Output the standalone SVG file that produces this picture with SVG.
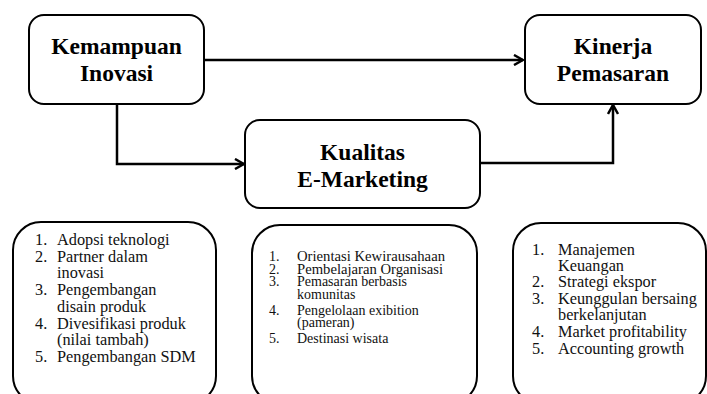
<svg xmlns="http://www.w3.org/2000/svg" width="707" height="394" viewBox="0 0 707 394">
<style>
.box{fill:#fff;stroke:#000;stroke-width:2}
.ttl{font-family:'Liberation Serif','DejaVu Serif',serif;font-weight:bold;font-size:23.5px;text-anchor:middle;fill:#000}
.li{font-family:'Liberation Serif','DejaVu Serif',serif;font-size:16.3px;fill:#111}
.ls{font-family:'Liberation Serif','DejaVu Serif',serif;font-size:14px;fill:#111}
.con{fill:none;stroke:#000;stroke-width:2.5}
.ah{fill:none;stroke:#000;stroke-width:2.5}
</style>
<defs>
<marker id="arr" viewBox="0 0 12 12" refX="11" refY="6" markerWidth="12" markerHeight="12" markerUnits="userSpaceOnUse" orient="auto">
<path d="M2,1 L11,6 L2,11" class="ah"/>
</marker>
</defs>
<rect width="707" height="394" fill="#fff"/>
<g id="connectors">
<path class="con" d="M204,60 H523" marker-end="url(#arr)"/>
<path class="con" d="M117,104 V164 H244" marker-end="url(#arr)"/>
<path class="con" d="M480,163 H613 V105" marker-end="url(#arr)"/>
</g>
<g id="kemampuan">
<rect class="box" x="29" y="15" width="175" height="89" rx="15"/>
<text class="ttl" x="116.5" y="54">Kemampuan</text>
<text class="ttl" x="116.5" y="81">Inovasi</text>
</g>
<g id="kinerja">
<rect class="box" x="525" y="15" width="176" height="89" rx="15"/>
<text class="ttl" x="613" y="54">Kinerja</text>
<text class="ttl" x="613" y="81">Pemasaran</text>
</g>
<g id="kualitas">
<rect class="box" x="245" y="120" width="235" height="88" rx="15"/>
<text class="ttl" x="362.5" y="160">Kualitas</text>
<text class="ttl" x="362.5" y="187">E-Marketing</text>
</g>
<g id="indikator-inovasi">
<rect class="box" x="13" y="222" width="203" height="182" rx="28"/>
<text class="li" x="35" y="245">1.</text><text class="li" x="57" y="245">Adopsi teknologi</text>
<text class="li" x="35" y="261.7">2.</text><text class="li" x="57" y="261.7">Partner dalam</text>
<text class="li" x="57" y="278.4">inovasi</text>
<text class="li" x="35" y="295.1">3.</text><text class="li" x="57" y="295.1">Pengembangan</text>
<text class="li" x="57" y="311.8">disain produk</text>
<text class="li" x="35" y="328.5">4.</text><text class="li" x="57" y="328.5">Divesifikasi produk</text>
<text class="li" x="57" y="345.2">(nilai tambah)</text>
<text class="li" x="35" y="361.9">5.</text><text class="li" x="57" y="361.9">Pengembangan SDM</text>
</g>
<g id="indikator-emarketing">
<rect class="box" x="252" y="225" width="225" height="179" rx="28"/>
<text class="ls" x="269" y="261">1.</text><text class="ls" x="297" y="261" textLength="148" lengthAdjust="spacingAndGlyphs">Orientasi Kewirausahaan</text>
<text class="ls" x="269" y="274">2.</text><text class="ls" x="297" y="274" textLength="146" lengthAdjust="spacingAndGlyphs">Pembelajaran Organisasi</text>
<text class="ls" x="269" y="286">3.</text><text class="ls" x="297" y="286">Pemasaran berbasis</text>
<text class="ls" x="297" y="299">komunitas</text>
<text class="ls" x="269" y="315">4.</text><text class="ls" x="297" y="315">Pengelolaan exibition</text>
<text class="ls" x="297" y="327">(pameran)</text>
<text class="ls" x="269" y="343">5.</text><text class="ls" x="297" y="343">Destinasi wisata</text>
</g>
<g id="indikator-kinerja">
<rect class="box" x="513" y="223" width="193" height="181" rx="28"/>
<text class="li" x="532" y="254.7">1.</text><text class="li" x="558" y="254.7">Manajemen</text>
<text class="li" x="558" y="270.7">Keuangan</text>
<text class="li" x="532" y="287">2.</text><text class="li" x="558" y="287">Strategi ekspor</text>
<text class="li" x="532" y="303.7">3.</text><text class="li" x="558" y="303.7">Keunggulan bersaing</text>
<text class="li" x="558" y="320.3">berkelanjutan</text>
<text class="li" x="532" y="337.3">4.</text><text class="li" x="558" y="337.3">Market profitability</text>
<text class="li" x="532" y="354">5.</text><text class="li" x="558" y="354">Accounting growth</text>
</g>
</svg>
